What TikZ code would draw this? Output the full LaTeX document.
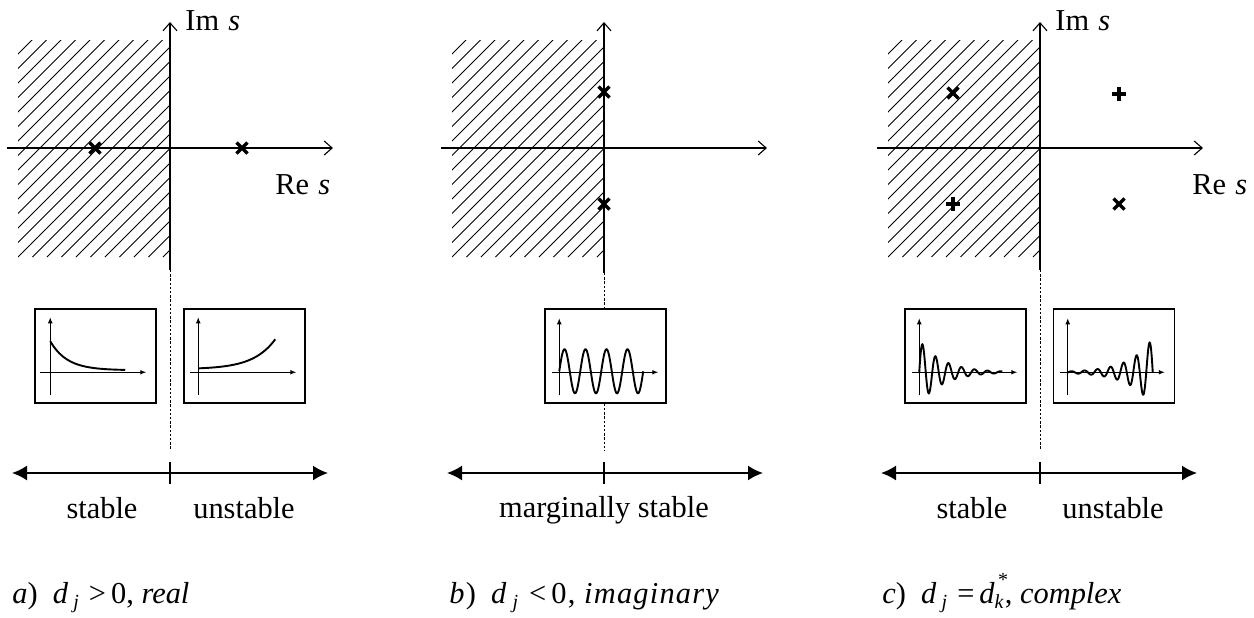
\documentclass[tikz,border=0pt]{standalone}
\usepackage{fontspec}
\setmainfont{Liberation Serif}
\usetikzlibrary{arrows.meta}
\newcommand\subtxt[1]{\raisebox{-0.38ex}{\fontsize{10}{10}\selectfont\textit{#1}}}
\newcommand\poleX[1]{\draw[polemark] (#1) +(-5.5,-5.5) -- +(5.5,5.5) +(-5.5,5.5) -- +(5.5,-5.5);}
\newcommand\poleP[1]{\draw[polemark] (#1) +(-7,0) -- +(7,0) +(0,-7) -- +(0,7);}
\begin{document}
\begin{tikzpicture}[x=0.5pt,y=-0.5pt,
  axisline/.style={line width=0.55pt,-{Straight Barb[length=4pt,width=7pt,line width=0.55pt]}},
  hatchline/.style={line width=0.5pt},
  polemark/.style={line width=1.7pt},
  graphbox/.style={draw,line width=0.75pt,minimum width=60.5pt,minimum height=47pt,inner sep=0pt},
  inaxis/.style={line width=0.5pt,-{Latex[length=3pt,width=2.4pt]}},
  curveline/.style={line width=0.95pt},
  rangearrow/.style={line width=0.9pt,{Latex[length=7.5pt,width=7.5pt]}-{Latex[length=7.5pt,width=7.5pt]}},
  tickline/.style={line width=1.1pt},
  guide/.style={line width=0.4pt,dash pattern=on 1.2pt off 0.9pt},
  lbl/.style={font=\fontsize{15.2}{18}\selectfont,inner sep=0pt}]
\useasboundingbox (0,0) rectangle (1254,617);

% ================= Panel a =================
\begin{scope}
  \clip (18,40) rectangle (170,257);
  \foreach \i in {-16,...,11} \draw[hatchline] (18+\i*14.5,257) -- ++(240,-240);
\end{scope}
\coordinate (a-xl) at (7,148);   \coordinate (a-xr) at (333,148);
\coordinate (a-yb) at (170,270); \coordinate (a-yt) at (170,22);
\coordinate (a-gl) at (170,450);
\draw[axisline] (a-xl) -- (a-xr);
\draw[axisline] (a-yb) -- (a-yt);
\draw[guide] (a-yb) -- (a-gl);
\coordinate (a-p1) at (95,148); \coordinate (a-p2) at (242,148);
\poleX{a-p1} \poleX{a-p2}
\node[lbl,anchor=base west] (a-im) at (185,30) {Im\hspace{0.3em}\textit{s}};
\node[lbl,anchor=base west] (a-re) at (275,194) {Re\hspace{0.3em}\textit{s}};
\node[graphbox] (ga1) at (95.5,356) {};
\node[graphbox] (ga2) at (244.5,356) {};
\begin{scope}[shift={(ga1.north west)}]
  \draw[inaxis] (16,87) -- (16,9);
  \draw[inaxis] (6,64) -- (112,64);
  \draw[curveline] plot[domain=16:91,samples=60,smooth] (\x,{62-29*exp(-(\x-16)/17)});
\end{scope}
\begin{scope}[shift={(ga2.north west)}]
  \draw[inaxis] (15,87) -- (15,9);
  \draw[inaxis] (7,64) -- (113,64);
  \draw[curveline] plot[domain=15:92,samples=60,smooth] (\x,{61-30*exp((\x-92)/22)});
\end{scope}
\coordinate (a-rl) at (12,473); \coordinate (a-rr) at (328,473);
\coordinate (a-tt) at (170,462); \coordinate (a-tb) at (170,484);
\draw[rangearrow] (a-rl) -- (a-rr);
\draw[tickline] (a-tt) -- (a-tb);
\node[lbl,anchor=base] (a-st) at (102,518) {stable};
\node[lbl,anchor=base] (a-un) at (244,518) {unstable};
\node[lbl,anchor=base west] (a-cap) at (12,603)
  {\textit{a})\hspace{0.5em}\textit{d}\,\subtxt{j}\,\,>\,0, \textit{real}};

% ================= Panel b =================
\begin{scope}
  \clip (452,40) rectangle (604,257);
  \foreach \i in {-16,...,11} \draw[hatchline] (452+\i*14.5,257) -- ++(240,-240);
\end{scope}
\coordinate (b-xl) at (441,148);  \coordinate (b-xr) at (767,148);
\coordinate (b-yb) at (604,273);  \coordinate (b-yt) at (604,22);
\coordinate (b-gl) at (604,450);
\draw[axisline] (b-xl) -- (b-xr);
\draw[axisline] (b-yb) -- (b-yt);
\coordinate (b-p1) at (604,92); \coordinate (b-p2) at (604,204);
\poleX{b-p1} \poleX{b-p2}
\node[graphbox] (gb) at (605.5,356) {};
\draw[guide] (b-yb) -- (b-yb |- gb.north);
\draw[guide] (b-yb |- gb.south) -- (b-gl);
\begin{scope}[shift={(gb.north west)}]
  \draw[inaxis] (15,87) -- (15,10);
  \draw[inaxis] (8,64) -- (114,64);
  \draw[curveline] plot[domain=15:99,samples=200,smooth] (\x,{63-22*sin((360/21)*(\x-15))});
\end{scope}
\coordinate (b-rl) at (447,473); \coordinate (b-rr) at (763,473);
\coordinate (b-tt) at (604,462); \coordinate (b-tb) at (604,484);
\draw[rangearrow] (b-rl) -- (b-rr);
\draw[tickline] (b-tt) -- (b-tb);
\node[lbl,anchor=base] (b-ms) at (604,517) {marginally stable};
\node[lbl,anchor=base west] (b-cap) at (449,603)
  {\addfontfeature{LetterSpace=4}\textit{b})\hspace{0.5em}\textit{d}\,\subtxt{j}\,\,<\,0, \textit{imaginary}};

% ================= Panel c =================
\begin{scope}
  \clip (888,40) rectangle (1040,257);
  \foreach \i in {-16,...,11} \draw[hatchline] (888+\i*14.5,257) -- ++(240,-240);
\end{scope}
\coordinate (c-xl) at (877,148);   \coordinate (c-xr) at (1203,148);
\coordinate (c-yb) at (1040,270);  \coordinate (c-yt) at (1040,22);
\coordinate (c-gl) at (1040,450);
\draw[axisline] (c-xl) -- (c-xr);
\draw[axisline] (c-yb) -- (c-yt);
\draw[guide] (c-yb) -- (c-gl);
\coordinate (c-p1) at (953,93);  \coordinate (c-p2) at (1119,204);
\coordinate (c-p3) at (1119,94); \coordinate (c-p4) at (953,204);
\poleX{c-p1} \poleX{c-p2} \poleP{c-p3} \poleP{c-p4}
\node[lbl,anchor=base west] (c-im) at (1055,30) {Im\hspace{0.3em}\textit{s}};
\node[lbl,anchor=base west] (c-re) at (1192,194) {Re\hspace{0.3em}\textit{s}};
\node[graphbox] (gc1) at (965.5,356) {};
\node[graphbox] (gc2) at (1114,356) {};
\begin{scope}[shift={(gc1.north west)}]
  \draw[inaxis] (15,87) -- (15,10);
  \draw[inaxis] (8,64) -- (113,64);
  \draw[curveline] plot[domain=15:98,samples=300,smooth] (\x,{64-32*exp(-0.043*(\x-15))*sin((360/13)*(\x-15))});
\end{scope}
\begin{scope}[shift={(gc2.north west)}]
  \draw[inaxis] (15,87) -- (15,10);
  \draw[inaxis] (7,64) -- (112,64);
  \draw[curveline] plot[domain=15:100,samples=300,smooth] (\x,{64+34*exp(0.043*(\x-100))*sin((360/13)*(\x-100))});
\end{scope}
\coordinate (c-rl) at (881,473); \coordinate (c-rr) at (1197,473);
\coordinate (c-tt) at (1040,462); \coordinate (c-tb) at (1040,484);
\draw[rangearrow] (c-rl) -- (c-rr);
\draw[tickline] (c-tt) -- (c-tb);
\node[lbl,anchor=base] (c-st) at (972,518) {stable};
\node[lbl,anchor=base] (c-un) at (1113,518) {unstable};
\node[lbl,anchor=base west] (c-cap) at (882,603)
  {\textit{c})\hspace{0.5em}\textit{d}\,\subtxt{j}\,\,=\,\textit{d}\makebox[0pt][l]{\raisebox{1.15ex}{\fontsize{10}{10}\selectfont\,*}}\subtxt{k}\kern0.5pt, \textit{complex}};
\end{tikzpicture}
\end{document}
